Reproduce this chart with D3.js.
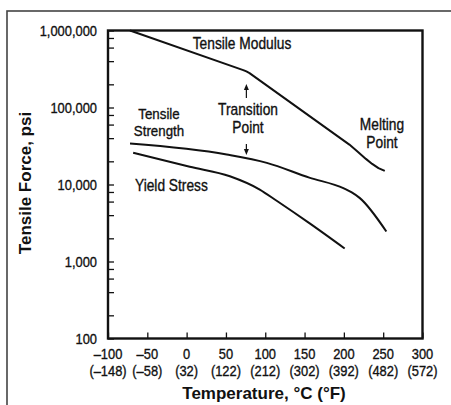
<!DOCTYPE html>
<html><head><meta charset="utf-8">
<script src="https://cdn.jsdelivr.net/npm/d3@7"></script>
<style>body{margin:0;background:#fff}svg{display:block}text{font-family:"Liberation Sans",Arial,sans-serif;fill:#111}</style>
</head><body><div id="chart"></div>
<script>
// ---- data ----
const xTicksC = [-100, -50, 0, 50, 100, 150, 200, 250, 300];
const xTicksF = ["(–148)", "(–58)", "(32)", "(122)", "(212)", "(302)", "(392)", "(482)", "(572)"];
const xTickLabels = ["–100", "–50", "0", "50", "100", "150", "200", "250", "300"];
const yMajor = [100, 1000, 10000, 100000, 1000000];
const yMajorLabels = ["100", "1,000", "10,000", "100,000", "1,000,000"];
const yMinorMult = [2, 4, 6, 8];

const modulusT = [-72, 72, 76, 80, 207, 218, 228, 236, 244, 252];
const modulusV = [1000000, 306000, 294000, 280000, 33000, 26500, 21500, 18500, 16300, 15000];
const strengthT = [-72, 51, 102, 156, 200, 210, 220, 254];
const strengthV = [34000, 24500, 19100, 12300, 8900, 7900, 6700, 2450];
const yieldT = [-68, 4, 55, 93, 115, 157, 201];
const yieldV = [25800, 17000, 12800, 8600, 6100, 3100, 1475];
const transitionT = 76;

// ---- layout ----
const W = 451, H = 405;
const svg = d3.select("#chart").append("svg").attr("width", W).attr("height", H);
const x = d3.scaleLinear().domain([-100, 300]).range([108, 422.5]);
const y = d3.scaleLog().domain([100, 1000000]).range([338.5, 30.5]);
const SX = 0.86;

// outer border
svg.append("rect").attr("x", 7).attr("y", 11).attr("width", 470).attr("height", 430)
  .attr("fill", "none").attr("stroke", "#444").attr("stroke-width", 1.6);

// axes (inside ticks)
const yTicks = [];
yMajor.forEach((m, i) => { yTicks.push(m); if (i < yMajor.length - 1) yMinorMult.forEach(k => yTicks.push(m * k)); });
const gy = svg.append("g").attr("transform", `translate(${x.range()[0]},0)`)
  .call(d3.axisLeft(y).tickValues(yTicks).tickSize(-6).tickFormat(""));
gy.select(".domain").remove();
gy.selectAll(".tick line").attr("stroke", "#111").attr("stroke-width", 1.3);

const gx = svg.append("g").attr("transform", `translate(0,${y.range()[0]})`)
  .call(d3.axisBottom(x).tickValues(xTicksC).tickSize(-6).tickFormat(""));
gx.select(".domain").remove();
gx.selectAll(".tick line").attr("stroke", "#111").attr("stroke-width", 1.3);

// frame
svg.append("rect").attr("x", x.range()[0]).attr("y", y.range()[1])
  .attr("width", x.range()[1] - x.range()[0]).attr("height", y.range()[0] - y.range()[1])
  .attr("fill", "none").attr("stroke", "#111").attr("stroke-width", 2.4);

function label(px, py, txt, size, anchor, weight, sx) {
  const t = svg.append("text")
    .attr("transform", `translate(${px},${py}) scale(${sx === undefined ? SX : sx},1)`)
    .attr("text-anchor", anchor || "middle").attr("dy", "0.35em")
    .style("font-size", size + "px").style("font-weight", weight || "normal").text(txt);
  if (!weight) t.attr("stroke", "#111").attr("stroke-width", 0.35);
  return t;
}

// y tick labels
yMajor.forEach((v, i) => label(97, y(v), yMajorLabels[i], 15, "end"));
// x tick labels
xTicksC.forEach((v, i) => {
  label(x(v), 353.5, xTickLabels[i], 15, "middle");
  label(x(v), 370.5, xTicksF[i], 15, "middle");
});

// titles
label(264, 393, "Temperature, °C (°F)", 17, "middle", "bold", 1);
svg.append("text").attr("transform", "translate(25,183) rotate(-90)")
  .attr("text-anchor", "middle").attr("dy", "0.35em")
  .style("font-size", "17px").style("font-weight", "bold").text("Tensile Force, psi");

// curves
const straight = d3.line().x(d => x(d[0])).y(d => y(d[1])).curve(d3.curveLinear);
const smooth = d3.line().x(d => x(d[0])).y(d => y(d[1])).curve(d3.curveMonotoneX);
[[modulusT, modulusV, straight], [strengthT, strengthV, smooth], [yieldT, yieldV, smooth]].forEach(([t, v, gen]) => {
  svg.append("path").datum(t.map((d, i) => [d, v[i]])).attr("d", gen)
    .attr("fill", "none").attr("stroke", "#111").attr("stroke-width", 2)
    .attr("stroke-linejoin", "round");
});

// annotations
label(242, 43, "Tensile Modulus", 16, "middle");
label(159, 114, "Tensile", 15.5, "middle");
label(159, 131, "Strength", 15.5, "middle");
label(248, 109, "Transition", 16, "middle");
label(248, 127, "Point", 16, "middle");
label(382, 124, "Melting", 16, "middle");
label(382, 142, "Point", 16, "middle");
label(135, 185, "Yield Stress", 16, "start");

// arrows
const ax = x(transitionT);
svg.append("line").attr("x1", ax).attr("x2", ax).attr("y1", 98).attr("y2", 88).attr("stroke", "#111").attr("stroke-width", 1.2);
svg.append("path").attr("d", `M${ax - 2.5},${90} L${ax},${84} L${ax + 2.5},${90} Z`).attr("fill", "#111");
svg.append("line").attr("x1", ax).attr("x2", ax).attr("y1", 144).attr("y2", 151).attr("stroke", "#111").attr("stroke-width", 1.2);
svg.append("path").attr("d", `M${ax - 2.5},${149} L${ax},${155} L${ax + 2.5},${149} Z`).attr("fill", "#111");
</script></body></html>
